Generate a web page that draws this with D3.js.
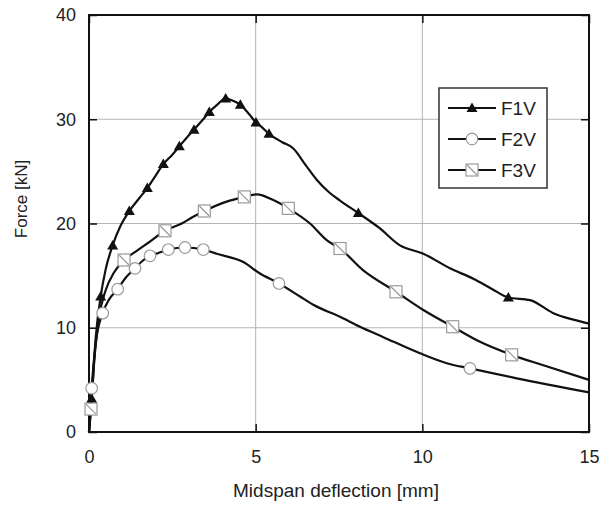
<!DOCTYPE html>
<html>
<head>
<meta charset="utf-8">
<script src="https://cdn.jsdelivr.net/npm/d3@7"></script>
<style>
  body { margin: 0; background: #fff; }
  text { font-family: "Liberation Sans", Arial, sans-serif; fill: #222; }
</style>
</head>
<body>
<svg id="chart" width="599" height="506"></svg>
<script>
// Curves: [deflection mm, force kN]
const f1vCurve = [[0,0],[0.08,3.2],[0.2,9],[0.35,13],[0.5,15.6],[0.71,17.9],[0.95,19.8],[1.21,21.2],[1.5,22.4],[1.75,23.4],[2.0,24.6],[2.23,25.7],[2.5,26.6],[2.71,27.4],[2.95,28.3],[3.15,29.0],[3.4,29.9],[3.61,30.7],[3.85,31.4],[4.1,32.0],[4.3,31.8],[4.54,31.4],[4.8,30.5],[5.01,29.7],[5.2,29.2],[5.4,28.6],[5.8,27.8],[6.13,27.2],[6.5,25.6],[6.83,24.2],[7.2,23.0],[7.53,22.2],[8.08,21.0],[8.7,19.6],[9.33,17.9],[10.03,17.1],[10.83,15.7],[11.53,14.7],[12.1,13.7],[12.58,12.9],[13.23,12.65],[13.93,11.4],[14.5,10.8],[15,10.4]];
const f1vMarkers = [[0.08,3.2],[0.35,13],[0.71,17.9],[1.21,21.2],[1.75,23.4],[2.23,25.7],[2.71,27.4],[3.15,29.0],[3.61,30.7],[4.1,32.0],[4.54,31.4],[5.01,29.7],[5.4,28.6],[8.08,21.0],[12.58,12.9]];

const f2vCurve = [[0,0],[0.08,4.2],[0.2,8.5],[0.41,11.4],[0.6,12.7],[0.86,13.7],[1.1,14.8],[1.38,15.7],[1.6,16.4],[1.83,16.9],[2.1,17.2],[2.38,17.5],[2.88,17.7],[3.43,17.5],[3.83,17.1],[4.63,16.3],[5.13,15.2],[5.7,14.25],[6.33,13.0],[6.73,12.2],[7.53,11.05],[8.13,10.1],[8.83,9.1],[9.93,7.55],[10.73,6.6],[11.43,6.1],[12.83,5.15],[15,3.8]];
const f2vMarkers = [[0.08,4.2],[0.41,11.4],[0.86,13.7],[1.38,15.7],[1.83,16.9],[2.38,17.5],[2.88,17.7],[3.43,17.5],[5.7,14.25],[11.43,6.1]];

const f3vCurve = [[0,0],[0.06,2.2],[0.15,6.5],[0.3,11],[0.5,13.6],[0.75,15.3],[1.05,16.5],[1.4,17.3],[1.8,18.2],[2.28,19.3],[2.78,20.0],[3.1,20.6],[3.46,21.2],[4.13,22.1],[4.66,22.55],[5.03,22.8],[5.53,22.25],[5.98,21.45],[6.63,20.0],[7.13,18.4],[7.53,17.6],[8.23,15.5],[9.21,13.45],[10.03,11.7],[10.91,10.1],[11.73,8.65],[12.68,7.4],[13.63,6.4],[15,5.0]];
const f3vMarkers = [[0.06,2.2],[1.05,16.5],[2.28,19.3],[3.46,21.2],[4.66,22.55],[5.98,21.45],[7.53,17.6],[9.21,13.45],[10.91,10.1],[12.68,7.4]];

const xTicks = [0, 5, 10, 15];
const yTicks = [0, 10, 20, 30, 40];
const seriesNames = ['F1V', 'F2V', 'F3V'];

const margin = { top: 15, right: 10, bottom: 74, left: 89 };
const width = 599 - margin.left - margin.right;
const height = 506 - margin.top - margin.bottom;

const svg = d3.select('#chart');
const g = svg.append('g').attr('transform', `translate(${margin.left},${margin.top})`);

const x = d3.scaleLinear().domain([0, 15]).range([0, width]);
const y = d3.scaleLinear().domain([0, 40]).range([height, 0]);

// grid lines
g.selectAll('.gx').data(xTicks.slice(1, -1)).enter().append('line')
  .attr('x1', d => x(d)).attr('x2', d => x(d)).attr('y1', 0).attr('y2', height)
  .attr('stroke', '#b5b5b5').attr('stroke-width', 1);
g.selectAll('.gy').data(yTicks.slice(1, -1)).enter().append('line')
  .attr('y1', d => y(d)).attr('y2', d => y(d)).attr('x1', 0).attr('x2', width)
  .attr('stroke', '#b5b5b5').attr('stroke-width', 1);

// axes with inward ticks on all four sides
const tickLen = 8;
g.append('g').attr('transform', `translate(0,${height})`)
  .call(d3.axisBottom(x).tickValues(xTicks).tickSize(-tickLen).tickPadding(18))
  .call(a => a.select('.domain').remove());
g.append('g')
  .call(d3.axisTop(x).tickValues(xTicks).tickSize(-tickLen).tickFormat(''))
  .call(a => a.select('.domain').remove());
g.append('g')
  .call(d3.axisLeft(y).tickValues(yTicks).tickSize(-tickLen).tickPadding(13))
  .call(a => a.select('.domain').remove());
g.append('g').attr('transform', `translate(${width},0)`)
  .call(d3.axisRight(y).tickValues(yTicks).tickSize(-tickLen).tickFormat(''))
  .call(a => a.select('.domain').remove());

g.selectAll('.tick line').attr('stroke', '#111').attr('stroke-width', 1.5);
g.selectAll('.tick text').attr('font-size', 18).attr('fill', '#222')
  .style('font-family', '"Liberation Sans", Arial, sans-serif');

// frame
g.append('rect').attr('width', width).attr('height', height)
  .attr('fill', 'none').attr('stroke', '#111').attr('stroke-width', 2);

// curves
const line = d3.line().x(d => x(d[0])).y(d => y(d[1])).curve(d3.curveMonotoneX);
[f1vCurve, f2vCurve, f3vCurve].forEach(c => {
  g.append('path').datum(c).attr('d', line)
    .attr('fill', 'none').attr('stroke', '#111').attr('stroke-width', 2.2)
    .attr('stroke-linejoin', 'round');
});

// marker drawing
function drawMarker(sel, type) {
  if (type === 0) {
    sel.append('path').attr('d', 'M0,-5.5L5.5,4L-5.5,4Z').attr('fill', '#111');
  } else if (type === 1) {
    sel.append('circle').attr('r', 5.8).attr('fill', '#fff')
      .attr('stroke', '#9a9a9a').attr('stroke-width', 1.2);
  } else {
    sel.append('rect').attr('x', -6).attr('y', -6).attr('width', 12).attr('height', 12)
      .attr('fill', '#fff').attr('stroke', '#9a9a9a').attr('stroke-width', 1.2);
    sel.append('line').attr('x1', -5).attr('y1', -5).attr('x2', 5).attr('y2', 5)
      .attr('stroke', '#9a9a9a').attr('stroke-width', 1.2);
  }
}

[f1vMarkers, f2vMarkers, f3vMarkers].forEach((m, i) => {
  g.selectAll(null).data(m).enter().append('g')
    .attr('transform', d => `translate(${x(d[0])},${y(d[1])})`)
    .each(function () { drawMarker(d3.select(this), i); });
});

// legend
const legend = svg.append('g').attr('transform', 'translate(439,88)');
legend.append('rect').attr('width', 108).attr('height', 100)
  .attr('fill', '#fff').attr('stroke', '#333').attr('stroke-width', 1.5);
seriesNames.forEach((name, i) => {
  const row = legend.append('g').attr('transform', `translate(0,${20 + i * 31})`);
  row.append('line').attr('x1', 9).attr('x2', 57).attr('y1', 0).attr('y2', 0)
    .attr('stroke', '#111').attr('stroke-width', 2);
  const mk = row.append('g').attr('transform', 'translate(33,0)');
  drawMarker(mk, i);
  row.append('text').attr('x', 62).attr('y', 7).attr('font-size', 19).text(name);
});

// axis titles
svg.append('text').attr('x', margin.left + width / 2 - 3).attr('y', 497)
  .attr('text-anchor', 'middle').attr('font-size', 19).text('Midspan deflection [mm]');
svg.append('text').attr('transform', 'translate(27,199) rotate(-90)')
  .attr('text-anchor', 'middle').attr('font-size', 17).text('Force [kN]');
</script>
</body>
</html>
